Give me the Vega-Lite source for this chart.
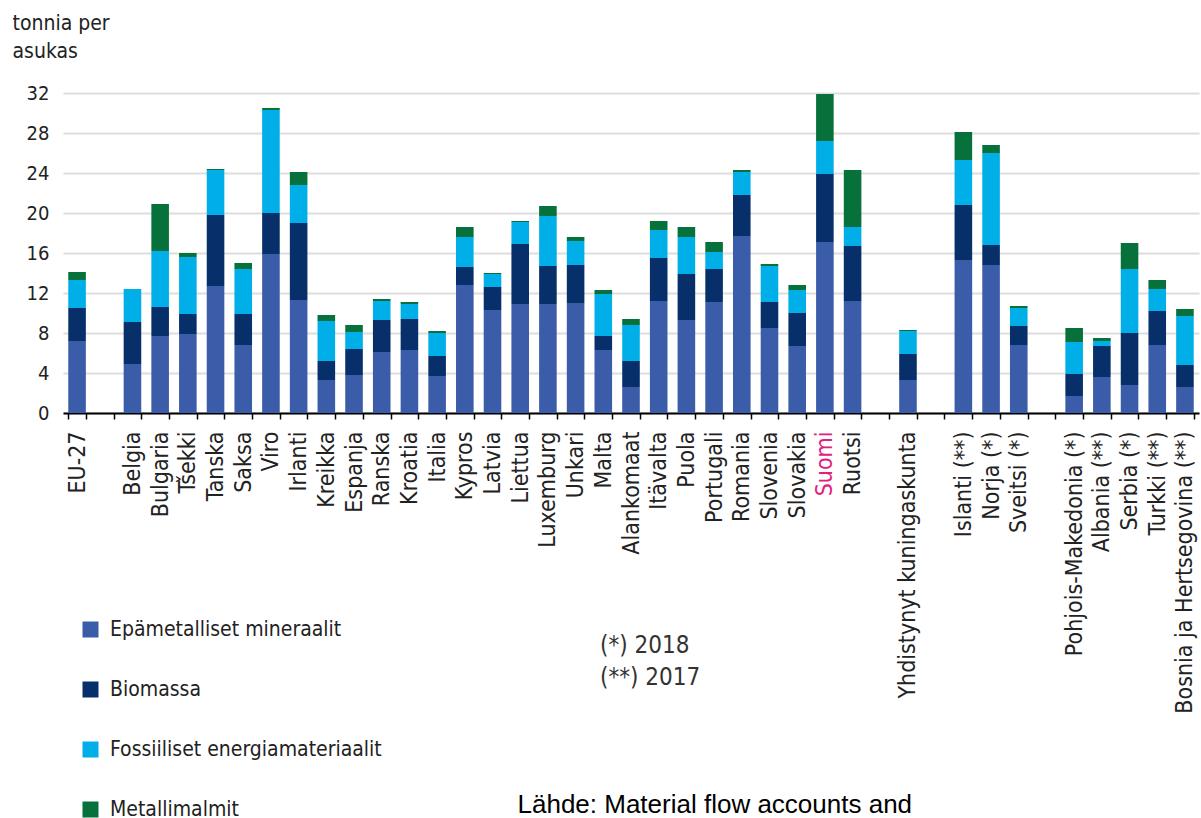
{
  "$schema": "https://vega.github.io/schema/vega-lite/v6.json",
  "autosize": {"type": "none"},
  "padding": {"left": 63, "top": 93, "right": 2, "bottom": 405},
  "width": 1136,
  "height": 320,
  "background": "white",
  "title": {
    "text": ["(*) 2018", "(**) 2017"],
    "anchor": "start",
    "frame": "group",
    "orient": "top",
    "dx": 537,
    "dy": 682,
    "font": "DejaVu Sans Condensed, DejaVu Sans",
    "fontSize": 24,
    "fontWeight": "normal",
    "color": "#333333",
    "lineHeight": 32
  },
  "data": {
    "values": [
      {"maa": "EU-27", "luokka": "Epämetalliset mineraalit", "j": 1, "arvo": 7.2},
      {"maa": "EU-27", "luokka": "Biomassa", "j": 2, "arvo": 3.3},
      {"maa": "EU-27", "luokka": "Fossiiliset energiamateriaalit", "j": 3, "arvo": 2.8},
      {"maa": "EU-27", "luokka": "Metallimalmit", "j": 4, "arvo": 0.8},
      {"maa": "Belgia", "luokka": "Epämetalliset mineraalit", "j": 1, "arvo": 4.9},
      {"maa": "Belgia", "luokka": "Biomassa", "j": 2, "arvo": 4.2},
      {"maa": "Belgia", "luokka": "Fossiiliset energiamateriaalit", "j": 3, "arvo": 3.3},
      {"maa": "Belgia", "luokka": "Metallimalmit", "j": 4, "arvo": 0.0},
      {"maa": "Bulgaria", "luokka": "Epämetalliset mineraalit", "j": 1, "arvo": 7.7},
      {"maa": "Bulgaria", "luokka": "Biomassa", "j": 2, "arvo": 2.9},
      {"maa": "Bulgaria", "luokka": "Fossiiliset energiamateriaalit", "j": 3, "arvo": 5.6},
      {"maa": "Bulgaria", "luokka": "Metallimalmit", "j": 4, "arvo": 4.7},
      {"maa": "Tšekki", "luokka": "Epämetalliset mineraalit", "j": 1, "arvo": 7.9},
      {"maa": "Tšekki", "luokka": "Biomassa", "j": 2, "arvo": 2.0},
      {"maa": "Tšekki", "luokka": "Fossiiliset energiamateriaalit", "j": 3, "arvo": 5.7},
      {"maa": "Tšekki", "luokka": "Metallimalmit", "j": 4, "arvo": 0.4},
      {"maa": "Tanska", "luokka": "Epämetalliset mineraalit", "j": 1, "arvo": 12.7},
      {"maa": "Tanska", "luokka": "Biomassa", "j": 2, "arvo": 7.1},
      {"maa": "Tanska", "luokka": "Fossiiliset energiamateriaalit", "j": 3, "arvo": 4.5},
      {"maa": "Tanska", "luokka": "Metallimalmit", "j": 4, "arvo": 0.1},
      {"maa": "Saksa", "luokka": "Epämetalliset mineraalit", "j": 1, "arvo": 6.8},
      {"maa": "Saksa", "luokka": "Biomassa", "j": 2, "arvo": 3.1},
      {"maa": "Saksa", "luokka": "Fossiiliset energiamateriaalit", "j": 3, "arvo": 4.5},
      {"maa": "Saksa", "luokka": "Metallimalmit", "j": 4, "arvo": 0.6},
      {"maa": "Viro", "luokka": "Epämetalliset mineraalit", "j": 1, "arvo": 15.9},
      {"maa": "Viro", "luokka": "Biomassa", "j": 2, "arvo": 4.1},
      {"maa": "Viro", "luokka": "Fossiiliset energiamateriaalit", "j": 3, "arvo": 10.3},
      {"maa": "Viro", "luokka": "Metallimalmit", "j": 4, "arvo": 0.2},
      {"maa": "Irlanti", "luokka": "Epämetalliset mineraalit", "j": 1, "arvo": 11.3},
      {"maa": "Irlanti", "luokka": "Biomassa", "j": 2, "arvo": 7.7},
      {"maa": "Irlanti", "luokka": "Fossiiliset energiamateriaalit", "j": 3, "arvo": 3.8},
      {"maa": "Irlanti", "luokka": "Metallimalmit", "j": 4, "arvo": 1.3},
      {"maa": "Kreikka", "luokka": "Epämetalliset mineraalit", "j": 1, "arvo": 3.3},
      {"maa": "Kreikka", "luokka": "Biomassa", "j": 2, "arvo": 1.9},
      {"maa": "Kreikka", "luokka": "Fossiiliset energiamateriaalit", "j": 3, "arvo": 4.0},
      {"maa": "Kreikka", "luokka": "Metallimalmit", "j": 4, "arvo": 0.6},
      {"maa": "Espanja", "luokka": "Epämetalliset mineraalit", "j": 1, "arvo": 3.8},
      {"maa": "Espanja", "luokka": "Biomassa", "j": 2, "arvo": 2.6},
      {"maa": "Espanja", "luokka": "Fossiiliset energiamateriaalit", "j": 3, "arvo": 1.7},
      {"maa": "Espanja", "luokka": "Metallimalmit", "j": 4, "arvo": 0.7},
      {"maa": "Ranska", "luokka": "Epämetalliset mineraalit", "j": 1, "arvo": 6.1},
      {"maa": "Ranska", "luokka": "Biomassa", "j": 2, "arvo": 3.2},
      {"maa": "Ranska", "luokka": "Fossiiliset energiamateriaalit", "j": 3, "arvo": 1.9},
      {"maa": "Ranska", "luokka": "Metallimalmit", "j": 4, "arvo": 0.2},
      {"maa": "Kroatia", "luokka": "Epämetalliset mineraalit", "j": 1, "arvo": 6.3},
      {"maa": "Kroatia", "luokka": "Biomassa", "j": 2, "arvo": 3.1},
      {"maa": "Kroatia", "luokka": "Fossiiliset energiamateriaalit", "j": 3, "arvo": 1.5},
      {"maa": "Kroatia", "luokka": "Metallimalmit", "j": 4, "arvo": 0.2},
      {"maa": "Italia", "luokka": "Epämetalliset mineraalit", "j": 1, "arvo": 3.7},
      {"maa": "Italia", "luokka": "Biomassa", "j": 2, "arvo": 2.0},
      {"maa": "Italia", "luokka": "Fossiiliset energiamateriaalit", "j": 3, "arvo": 2.3},
      {"maa": "Italia", "luokka": "Metallimalmit", "j": 4, "arvo": 0.2},
      {"maa": "Kypros", "luokka": "Epämetalliset mineraalit", "j": 1, "arvo": 12.8},
      {"maa": "Kypros", "luokka": "Biomassa", "j": 2, "arvo": 1.8},
      {"maa": "Kypros", "luokka": "Fossiiliset energiamateriaalit", "j": 3, "arvo": 3.0},
      {"maa": "Kypros", "luokka": "Metallimalmit", "j": 4, "arvo": 1.0},
      {"maa": "Latvia", "luokka": "Epämetalliset mineraalit", "j": 1, "arvo": 10.3},
      {"maa": "Latvia", "luokka": "Biomassa", "j": 2, "arvo": 2.3},
      {"maa": "Latvia", "luokka": "Fossiiliset energiamateriaalit", "j": 3, "arvo": 1.3},
      {"maa": "Latvia", "luokka": "Metallimalmit", "j": 4, "arvo": 0.1},
      {"maa": "Liettua", "luokka": "Epämetalliset mineraalit", "j": 1, "arvo": 10.9},
      {"maa": "Liettua", "luokka": "Biomassa", "j": 2, "arvo": 6.0},
      {"maa": "Liettua", "luokka": "Fossiiliset energiamateriaalit", "j": 3, "arvo": 2.2},
      {"maa": "Liettua", "luokka": "Metallimalmit", "j": 4, "arvo": 0.1},
      {"maa": "Luxemburg", "luokka": "Epämetalliset mineraalit", "j": 1, "arvo": 10.9},
      {"maa": "Luxemburg", "luokka": "Biomassa", "j": 2, "arvo": 3.8},
      {"maa": "Luxemburg", "luokka": "Fossiiliset energiamateriaalit", "j": 3, "arvo": 5.0},
      {"maa": "Luxemburg", "luokka": "Metallimalmit", "j": 4, "arvo": 1.0},
      {"maa": "Unkari", "luokka": "Epämetalliset mineraalit", "j": 1, "arvo": 11.0},
      {"maa": "Unkari", "luokka": "Biomassa", "j": 2, "arvo": 3.8},
      {"maa": "Unkari", "luokka": "Fossiiliset energiamateriaalit", "j": 3, "arvo": 2.4},
      {"maa": "Unkari", "luokka": "Metallimalmit", "j": 4, "arvo": 0.4},
      {"maa": "Malta", "luokka": "Epämetalliset mineraalit", "j": 1, "arvo": 6.3},
      {"maa": "Malta", "luokka": "Biomassa", "j": 2, "arvo": 1.4},
      {"maa": "Malta", "luokka": "Fossiiliset energiamateriaalit", "j": 3, "arvo": 4.2},
      {"maa": "Malta", "luokka": "Metallimalmit", "j": 4, "arvo": 0.4},
      {"maa": "Alankomaat", "luokka": "Epämetalliset mineraalit", "j": 1, "arvo": 2.6},
      {"maa": "Alankomaat", "luokka": "Biomassa", "j": 2, "arvo": 2.6},
      {"maa": "Alankomaat", "luokka": "Fossiiliset energiamateriaalit", "j": 3, "arvo": 3.6},
      {"maa": "Alankomaat", "luokka": "Metallimalmit", "j": 4, "arvo": 0.6},
      {"maa": "Itävalta", "luokka": "Epämetalliset mineraalit", "j": 1, "arvo": 11.2},
      {"maa": "Itävalta", "luokka": "Biomassa", "j": 2, "arvo": 4.3},
      {"maa": "Itävalta", "luokka": "Fossiiliset energiamateriaalit", "j": 3, "arvo": 2.8},
      {"maa": "Itävalta", "luokka": "Metallimalmit", "j": 4, "arvo": 0.9},
      {"maa": "Puola", "luokka": "Epämetalliset mineraalit", "j": 1, "arvo": 9.3},
      {"maa": "Puola", "luokka": "Biomassa", "j": 2, "arvo": 4.6},
      {"maa": "Puola", "luokka": "Fossiiliset energiamateriaalit", "j": 3, "arvo": 3.7},
      {"maa": "Puola", "luokka": "Metallimalmit", "j": 4, "arvo": 1.0},
      {"maa": "Portugali", "luokka": "Epämetalliset mineraalit", "j": 1, "arvo": 11.1},
      {"maa": "Portugali", "luokka": "Biomassa", "j": 2, "arvo": 3.3},
      {"maa": "Portugali", "luokka": "Fossiiliset energiamateriaalit", "j": 3, "arvo": 1.7},
      {"maa": "Portugali", "luokka": "Metallimalmit", "j": 4, "arvo": 1.0},
      {"maa": "Romania", "luokka": "Epämetalliset mineraalit", "j": 1, "arvo": 17.7},
      {"maa": "Romania", "luokka": "Biomassa", "j": 2, "arvo": 4.1},
      {"maa": "Romania", "luokka": "Fossiiliset energiamateriaalit", "j": 3, "arvo": 2.3},
      {"maa": "Romania", "luokka": "Metallimalmit", "j": 4, "arvo": 0.2},
      {"maa": "Slovenia", "luokka": "Epämetalliset mineraalit", "j": 1, "arvo": 8.5},
      {"maa": "Slovenia", "luokka": "Biomassa", "j": 2, "arvo": 2.6},
      {"maa": "Slovenia", "luokka": "Fossiiliset energiamateriaalit", "j": 3, "arvo": 3.6},
      {"maa": "Slovenia", "luokka": "Metallimalmit", "j": 4, "arvo": 0.2},
      {"maa": "Slovakia", "luokka": "Epämetalliset mineraalit", "j": 1, "arvo": 6.7},
      {"maa": "Slovakia", "luokka": "Biomassa", "j": 2, "arvo": 3.3},
      {"maa": "Slovakia", "luokka": "Fossiiliset energiamateriaalit", "j": 3, "arvo": 2.3},
      {"maa": "Slovakia", "luokka": "Metallimalmit", "j": 4, "arvo": 0.5},
      {"maa": "Suomi", "luokka": "Epämetalliset mineraalit", "j": 1, "arvo": 17.1},
      {"maa": "Suomi", "luokka": "Biomassa", "j": 2, "arvo": 6.8},
      {"maa": "Suomi", "luokka": "Fossiiliset energiamateriaalit", "j": 3, "arvo": 3.3},
      {"maa": "Suomi", "luokka": "Metallimalmit", "j": 4, "arvo": 4.7},
      {"maa": "Ruotsi", "luokka": "Epämetalliset mineraalit", "j": 1, "arvo": 11.2},
      {"maa": "Ruotsi", "luokka": "Biomassa", "j": 2, "arvo": 5.5},
      {"maa": "Ruotsi", "luokka": "Fossiiliset energiamateriaalit", "j": 3, "arvo": 1.9},
      {"maa": "Ruotsi", "luokka": "Metallimalmit", "j": 4, "arvo": 5.7},
      {"maa": "Yhdistynyt kuningaskunta", "luokka": "Epämetalliset mineraalit", "j": 1, "arvo": 3.3},
      {"maa": "Yhdistynyt kuningaskunta", "luokka": "Biomassa", "j": 2, "arvo": 2.6},
      {"maa": "Yhdistynyt kuningaskunta", "luokka": "Fossiiliset energiamateriaalit", "j": 3, "arvo": 2.3},
      {"maa": "Yhdistynyt kuningaskunta", "luokka": "Metallimalmit", "j": 4, "arvo": 0.1},
      {"maa": "Islanti (**)", "luokka": "Epämetalliset mineraalit", "j": 1, "arvo": 15.3},
      {"maa": "Islanti (**)", "luokka": "Biomassa", "j": 2, "arvo": 5.5},
      {"maa": "Islanti (**)", "luokka": "Fossiiliset energiamateriaalit", "j": 3, "arvo": 4.5},
      {"maa": "Islanti (**)", "luokka": "Metallimalmit", "j": 4, "arvo": 2.8},
      {"maa": "Norja (*)", "luokka": "Epämetalliset mineraalit", "j": 1, "arvo": 14.8},
      {"maa": "Norja (*)", "luokka": "Biomassa", "j": 2, "arvo": 2.0},
      {"maa": "Norja (*)", "luokka": "Fossiiliset energiamateriaalit", "j": 3, "arvo": 9.2},
      {"maa": "Norja (*)", "luokka": "Metallimalmit", "j": 4, "arvo": 0.8},
      {"maa": "Sveitsi (*)", "luokka": "Epämetalliset mineraalit", "j": 1, "arvo": 6.8},
      {"maa": "Sveitsi (*)", "luokka": "Biomassa", "j": 2, "arvo": 1.9},
      {"maa": "Sveitsi (*)", "luokka": "Fossiiliset energiamateriaalit", "j": 3, "arvo": 1.8},
      {"maa": "Sveitsi (*)", "luokka": "Metallimalmit", "j": 4, "arvo": 0.2},
      {"maa": "Pohjois-Makedonia (*)", "luokka": "Epämetalliset mineraalit", "j": 1, "arvo": 1.7},
      {"maa": "Pohjois-Makedonia (*)", "luokka": "Biomassa", "j": 2, "arvo": 2.2},
      {"maa": "Pohjois-Makedonia (*)", "luokka": "Fossiiliset energiamateriaalit", "j": 3, "arvo": 3.2},
      {"maa": "Pohjois-Makedonia (*)", "luokka": "Metallimalmit", "j": 4, "arvo": 1.4},
      {"maa": "Albania (**)", "luokka": "Epämetalliset mineraalit", "j": 1, "arvo": 3.6},
      {"maa": "Albania (**)", "luokka": "Biomassa", "j": 2, "arvo": 3.1},
      {"maa": "Albania (**)", "luokka": "Fossiiliset energiamateriaalit", "j": 3, "arvo": 0.5},
      {"maa": "Albania (**)", "luokka": "Metallimalmit", "j": 4, "arvo": 0.3},
      {"maa": "Serbia (*)", "luokka": "Epämetalliset mineraalit", "j": 1, "arvo": 2.8},
      {"maa": "Serbia (*)", "luokka": "Biomassa", "j": 2, "arvo": 5.2},
      {"maa": "Serbia (*)", "luokka": "Fossiiliset energiamateriaalit", "j": 3, "arvo": 6.4},
      {"maa": "Serbia (*)", "luokka": "Metallimalmit", "j": 4, "arvo": 2.6},
      {"maa": "Turkki (**)", "luokka": "Epämetalliset mineraalit", "j": 1, "arvo": 6.8},
      {"maa": "Turkki (**)", "luokka": "Biomassa", "j": 2, "arvo": 3.4},
      {"maa": "Turkki (**)", "luokka": "Fossiiliset energiamateriaalit", "j": 3, "arvo": 2.2},
      {"maa": "Turkki (**)", "luokka": "Metallimalmit", "j": 4, "arvo": 0.9},
      {"maa": "Bosnia ja Hertsegovina (**)", "luokka": "Epämetalliset mineraalit", "j": 1, "arvo": 2.6},
      {"maa": "Bosnia ja Hertsegovina (**)", "luokka": "Biomassa", "j": 2, "arvo": 2.2},
      {"maa": "Bosnia ja Hertsegovina (**)", "luokka": "Fossiiliset energiamateriaalit", "j": 3, "arvo": 4.9},
      {"maa": "Bosnia ja Hertsegovina (**)", "luokka": "Metallimalmit", "j": 4, "arvo": 0.7}
    ]
  },
  "mark": {"type": "bar"},
  "encoding": {
    "x": {
      "field": "maa",
      "type": "nominal",
      "scale": {
        "domain": ["EU-27", " ", "Belgia", "Bulgaria", "Tšekki", "Tanska", "Saksa", "Viro", "Irlanti", "Kreikka", "Espanja", "Ranska", "Kroatia", "Italia", "Kypros", "Latvia", "Liettua", "Luxemburg", "Unkari", "Malta", "Alankomaat", "Itävalta", "Puola", "Portugali", "Romania", "Slovenia", "Slovakia", "Suomi", "Ruotsi", "  ", "Yhdistynyt kuningaskunta", "   ", "Islanti (**)", "Norja (*)", "Sveitsi (*)", "    ", "Pohjois-Makedonia (*)", "Albania (**)", "Serbia (*)", "Turkki (**)", "Bosnia ja Hertsegovina (**)"],
        "paddingInner": 0.365,
        "paddingOuter": 0.19
      },
      "axis": {
        "title": "Lähde: Material flow accounts and",
        "titleFont": "Liberation Sans, Arial",
        "titleFontSize": 26,
        "titleFontWeight": "normal",
        "titleColor": "#000000",
        "titleAngle": 0,
        "titleAlign": "left",
        "titleBaseline": "alphabetic",
        "titleX": 454,
        "titleY": 399,
        "labelAngle": -90,
        "labelFont": "DejaVu Sans Condensed, DejaVu Sans",
        "labelFontSize": 23,
        "labelPadding": 12,
        "labelOverlap": false,
        "labelLimit": 0,
        "labelColor": {"condition": {"test": "datum.value === 'Suomi'", "value": "#e0227f"}, "value": "#222222"},
        "tickBand": "extent",
        "tickSize": 6,
        "tickWidth": 1.5,
        "tickColor": "#000000",
        "domainColor": "#000000",
        "domainWidth": 2,
        "grid": false
      }
    },
    "y": {
      "field": "arvo",
      "type": "quantitative",
      "stack": "zero",
      "scale": {"domain": [0, 32], "nice": false},
      "axis": {
        "title": ["tonnia per", "asukas"],
        "titleFont": "DejaVu Sans Condensed, DejaVu Sans",
        "titleFontSize": 21,
        "titleFontWeight": "normal",
        "titleColor": "#222222",
        "titleAngle": 0,
        "titleAlign": "left",
        "titleBaseline": "alphabetic",
        "titleLineHeight": 28,
        "titleX": -51,
        "titleY": -64,
        "values": [0, 4, 8, 12, 16, 20, 24, 28, 32],
        "labelFont": "DejaVu Sans Condensed, DejaVu Sans",
        "labelFontSize": 20,
        "labelColor": "#222222",
        "labelPadding": 14,
        "domain": false,
        "ticks": false,
        "grid": true,
        "gridColor": "#dddddd",
        "gridWidth": 2
      }
    },
    "color": {
      "field": "luokka",
      "type": "nominal",
      "scale": {
        "domain": ["Epämetalliset mineraalit", "Biomassa", "Fossiiliset energiamateriaalit", "Metallimalmit"],
        "range": ["#3b5ca8", "#07306a", "#00aee8", "#06713a"]
      },
      "legend": {
        "orient": "none",
        "legendX": 17,
        "legendY": 526,
        "title": null,
        "direction": "vertical",
        "symbolType": "square",
        "symbolSize": 256,
        "symbolStrokeWidth": 0,
        "labelFont": "DejaVu Sans Condensed, DejaVu Sans",
        "labelFontSize": 21,
        "labelColor": "#222222",
        "labelOffset": 9,
        "labelLimit": 500,
        "rowPadding": 38
      }
    },
    "order": {"field": "j", "type": "quantitative", "sort": "ascending"}
  },
  "config": {
    "view": {"stroke": null}
  }
}
